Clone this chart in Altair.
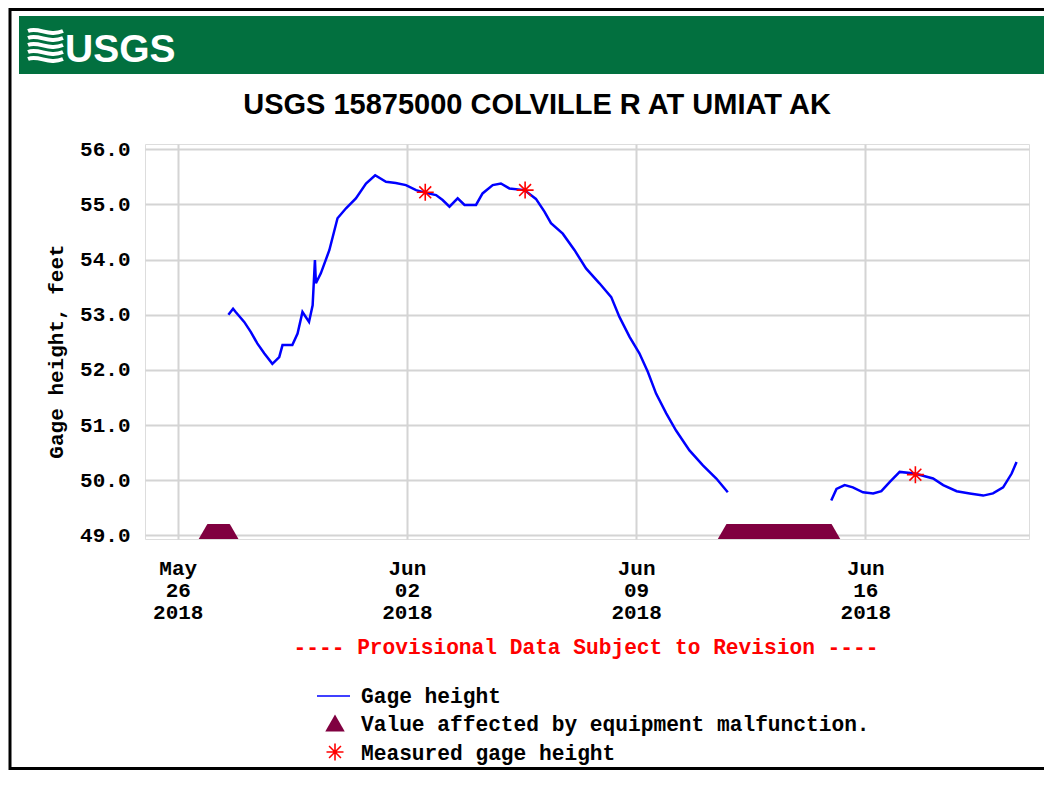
import altair as alt
import pandas as pd

# ---------------- data ----------------
seg_a_times = [
    "05-27 13:08", "05-27 16:33", "05-27 18:29", "05-28 00:43", "05-28 05:31",
    "05-28 10:19", "05-28 15:22", "05-28 21:22", "05-29 02:24", "05-29 04:48",
    "05-29 12:00", "05-29 15:50", "05-29 19:26", "05-30 00:14", "05-30 02:53",
    "05-30 04:34", "05-30 05:17", "05-30 08:53", "05-30 15:07", "05-30 21:07",
    "05-31 03:22", "05-31 10:34", "05-31 18:00", "06-01 00:43", "06-01 08:38",
    "06-01 15:50", "06-01 23:17", "06-02 06:43", "06-02 13:55", "06-02 21:22",
    "06-03 02:10", "06-03 07:12", "06-03 13:12", "06-03 18:14", "06-04 02:38",
    "06-04 07:26", "06-04 14:53", "06-04 20:53", "06-05 03:07", "06-05 14:10",
    "06-05 22:34", "06-06 04:48", "06-06 09:36", "06-06 18:14", "06-07 02:53",
    "06-07 11:17", "06-07 21:07", "06-08 05:46", "06-08 11:46", "06-08 19:12",
    "06-09 02:24", "06-09 08:38", "06-09 14:38", "06-09 22:05", "06-10 05:17",
    "06-10 15:07", "06-11 00:58", "06-11 10:48", "06-11 19:12",
]
seg_a_values = [
    53.00, 53.11, 53.05, 52.87, 52.69,
    52.48, 52.30, 52.11, 52.23, 52.45,
    52.45, 52.66, 53.05, 52.87, 53.17,
    53.99, 53.57, 53.75, 54.17, 54.75,
    54.93, 55.11, 55.38, 55.53, 55.41,
    55.39, 55.35, 55.26, 55.21, 55.17,
    55.08, 54.96, 55.11, 54.99, 54.99,
    55.20, 55.35, 55.38, 55.29, 55.26,
    55.10, 54.87, 54.66, 54.47, 54.17,
    53.84, 53.57, 53.32, 52.96, 52.60,
    52.30, 51.96, 51.57, 51.21, 50.90,
    50.54, 50.27, 50.03, 49.78,
]
seg_b_times = [
    "06-14 23:02", "06-15 02:53", "06-15 08:53", "06-15 14:53", "06-15 22:19",
    "06-16 05:46", "06-16 11:46", "06-16 18:00", "06-17 01:12", "06-17 12:14",
    "06-18 01:41", "06-18 09:07", "06-18 18:58", "06-19 04:34", "06-19 14:24",
    "06-19 21:36", "06-20 05:02", "06-20 11:17", "06-20 14:53",
]
seg_b_values = [
    49.63, 49.84, 49.91, 49.87, 49.78,
    49.76, 49.80, 49.97, 50.15, 50.12,
    50.03, 49.91, 49.80, 49.76, 49.72,
    49.76, 49.87, 50.12, 50.33,
]
meas_times = ["06-02 13:26", "06-05 14:38", "06-17 12:43"]
meas_values = [55.22, 55.26, 50.10]

malf_start = ["05-26 21:43", "06-11 18:14"]
malf_end = ["05-27 14:10", "06-14 23:17"]

tick_dates = ["05-26 00:00", "06-02 00:00", "06-09 00:00", "06-16 00:00"]
y_ticks = [49, 50, 51, 52, 53, 54, 55, 56]

title_text = "USGS 15875000 COLVILLE R AT UMIAT AK"
y_title = "Gage height, feet"
notice = "---- Provisional Data Subject to Revision ----"
legend_labels = ["Gage height", "Value affected by equipment malfunction.",
                 "Measured gage height"]


def iso(s):
    md, hm = s.split(" ")
    return f"2018-{md}T{hm}:00Z"


def dt(s):
    md, hm = s.split(" ")
    m, d = md.split("-")
    h, mi = hm.split(":")
    return alt.DateTime(year=2018, month=int(m), date=int(d), hours=int(h),
                        minutes=int(mi), utc=True)


gage = pd.DataFrame({
    "t": [iso(s) for s in seg_a_times] + [iso(s) for s in seg_b_times],
    "v": seg_a_values + seg_b_values,
    "seg": ["a"] * len(seg_a_times) + ["b"] * len(seg_b_times),
})
meas = pd.DataFrame({"t": [iso(s) for s in meas_times], "v": meas_values})
malf = pd.DataFrame({"s": [iso(s) for s in malf_start],
                     "e": [iso(s) for s in malf_end]})

# ---------------- styling ----------------
W, H = 884, 395
PAD = {"left": 137, "top": 136, "right": 15, "bottom": 231}
MONO = "Liberation Mono"
SANS = "Liberation Sans"
GREEN = "#02703F"
MAROON = "#800040"
BLUE = "#0000FF"
RED = "#FF0000"
STAR = "M-1,0L1,0M0,-1L0,1M-0.7,-0.7L0.7,0.7M-0.7,0.7L0.7,-0.7"
WAVES = ("M-1,-0.8C-0.4,-1.05 0.2,-0.45 1,-0.8"
         "M-1,-0.4C-0.4,-0.65 0.2,-0.05 1,-0.4"
         "M-1,0C-0.4,-0.25 0.2,0.35 1,0"
         "M-1,0.4C-0.4,0.15 0.2,0.75 1,0.4"
         "M-1,0.8C-0.4,0.55 0.2,1.15 1,0.8")

x_scale = alt.Scale(type="utc",
                    domain=[alt.DateTime(year=2018, month=5, date=25, utc=True),
                            alt.DateTime(year=2018, month=6, date=21, utc=True)])
y_scale = alt.Scale(domain=[48.933, 56.096], nice=False, zero=False)

x_axis = alt.Axis(
    values=[dt(s) for s in tick_dates],
    labelExpr="[utcFormat(datum.value, '%b'), utcFormat(datum.value, '%d'), utcFormat(datum.value, '%Y')]",
    title=None, grid=True, gridColor="#d4d4d4", gridWidth=2,
    ticks=False, tickSize=0, domain=False,
    labelFont=MONO, labelFontSize=21, labelFontWeight="bold", labelColor="black",
    labelBaseline="top", labelPadding=18, labelLineHeight=22,
    labelFlush=False, labelOverlap=False, labelBound=False,
)
y_axis = alt.Axis(
    values=y_ticks, format=".1f",
    title=y_title, titleFont=MONO, titleFontSize=21, titleFontWeight="bold",
    titleColor="black", titleAngle=270, titleAlign="center",
    titleBaseline="alphabetic", titleX=-83, titleY=207,
    grid=True, gridColor="#d4d4d4", gridWidth=2,
    ticks=False, tickSize=0, domain=False,
    labelFont=MONO, labelFontSize=21, labelFontWeight="bold", labelColor="black",
    labelPadding=15, labelFlush=False, labelOverlap=False, labelBound=False,
)

line = alt.Chart(gage).mark_line(color=BLUE, strokeWidth=2.5).encode(
    x=alt.X("t:T", scale=x_scale, axis=x_axis),
    y=alt.Y("v:Q", scale=y_scale, axis=y_axis),
    detail="seg:N",
)

stars = alt.Chart(meas).mark_point(
    shape=STAR, size=289, filled=False, stroke=RED, strokeWidth=1.6, opacity=1
).encode(x="t:T", y="v:Q")

malf_rect = alt.Chart(malf).mark_rect(color=MAROON, opacity=1).encode(
    x="s:T", x2="e:T", y=alt.value(380), y2=alt.value(H))
malf_tri_s = alt.Chart(malf).mark_point(
    shape="triangle-up", size=300, filled=True, color=MAROON, opacity=1
).encode(x="s:T", y=alt.value(387.5))
malf_tri_e = alt.Chart(malf).mark_point(
    shape="triangle-up", size=300, filled=True, color=MAROON, opacity=1
).encode(x="e:T", y=alt.value(387.5))

one = pd.DataFrame({"k": [0]})

banner = alt.Chart(one).mark_rect(color=GREEN).encode(
    x=alt.value(-126), x2=alt.value(W + PAD["right"]),
    y=alt.value(-128), y2=alt.value(-70))
logo_icon = alt.Chart(one).mark_point(
    shape=WAVES, size=1225, filled=False, stroke="white", strokeWidth=4, opacity=1
).encode(x=alt.value(-99.5), y=alt.value(-99))
logo_text = alt.Chart(one).mark_text(
    text="USGS", font=SANS, fontSize=39, fontWeight="bold", color="white",
    align="left", baseline="alphabetic"
).encode(x=alt.value(-80), y=alt.value(-82))

title = alt.Chart(one).mark_text(
    text=title_text, font=SANS, fontSize=29, fontWeight="bold", color="black",
    align="center", baseline="alphabetic"
).encode(x=alt.value(392), y=alt.value(-30))

notice_txt = alt.Chart(one).mark_text(
    text=notice, font=MONO, fontSize=21.2, fontWeight="bold", color=RED,
    align="center", baseline="alphabetic"
).encode(x=alt.value(441), y=alt.value(510))

leg_line = alt.Chart(one).mark_rule(color=BLUE, strokeWidth=1.5).encode(
    x=alt.value(172), x2=alt.value(205), y=alt.value(552))
leg_tri = alt.Chart(one).mark_point(
    shape="triangle-up", size=380, filled=True, color=MAROON, opacity=1
).encode(x=alt.value(190), y=alt.value(579))
leg_star = alt.Chart(one).mark_point(
    shape=STAR, size=289, filled=False, stroke=RED, strokeWidth=1.6, opacity=1
).encode(x=alt.value(190), y=alt.value(608))
leg_texts = [
    alt.Chart(one).mark_text(
        text=lab, font=MONO, fontSize=21.2, fontWeight="bold", color="black",
        align="left", baseline="alphabetic"
    ).encode(x=alt.value(216), y=alt.value(yy))
    for lab, yy in zip(legend_labels, [559, 587, 616])
]

frame_left = alt.Chart(one).mark_rule(color="black", strokeWidth=3).encode(
    x=alt.value(-135), y=alt.value(-PAD["top"]), y2=alt.value(H + PAD["bottom"]))
frame_top = alt.Chart(one).mark_rule(color="black", strokeWidth=3).encode(
    x=alt.value(-136), x2=alt.value(W + PAD["right"]), y=alt.value(-134.5))
frame_bottom = alt.Chart(one).mark_rule(color="black", strokeWidth=3).encode(
    x=alt.value(-136), x2=alt.value(W + PAD["right"]), y=alt.value(H + PAD["bottom"] - 1.5))

chart = alt.layer(
    banner, logo_icon, logo_text, title,
    line, malf_rect, malf_tri_s, malf_tri_e, stars,
    notice_txt, leg_line, leg_tri, leg_star, *leg_texts,
    frame_left, frame_top, frame_bottom,
).properties(
    width=W, height=H, padding=PAD,
    autosize=alt.AutoSizeParams(type="none"),
).configure_view(
    stroke="#222222", strokeWidth=2
).configure(background="white")

chart.save("out.html", embed_options={"renderer": "svg", "actions": False})
